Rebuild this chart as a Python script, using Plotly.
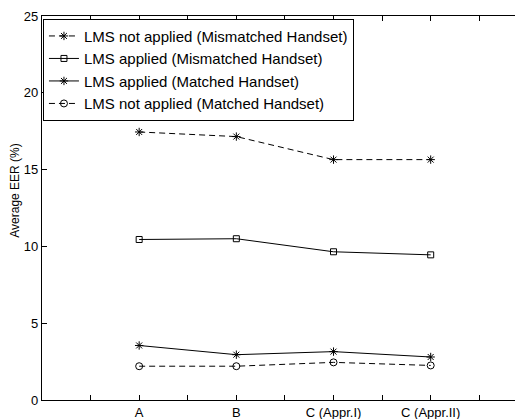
import plotly.graph_objects as go

categories = ["A", "B", "C (Appr.I)", "C (Appr.II)"]
lms_not_applied_mismatched = [17.45, 17.15, 15.65, 15.65]
lms_applied_mismatched = [10.45, 10.5, 9.65, 9.45]
lms_applied_matched = [3.55, 2.95, 3.15, 2.8]
lms_not_applied_matched = [2.2, 2.2, 2.45, 2.25]
y_ticks = [0, 5, 10, 15, 20, 25]

x_pos = [2 * (i + 1) for i in range(len(categories))]
tick_pos = list(range(1, 10))
tick_text = [categories[x_pos.index(p)] if p in x_pos else "" for p in tick_pos]

series = [
    ("LMS not applied (Mismatched Handset)", lms_not_applied_mismatched, "6px,4px", "asterisk-open", 7),
    ("LMS applied (Mismatched Handset)", lms_applied_mismatched, "solid", "square-open", 6),
    ("LMS applied (Matched Handset)", lms_applied_matched, "solid", "asterisk-open", 7),
    ("LMS not applied (Matched Handset)", lms_not_applied_matched, "6px,4px", "circle-open", 7),
]

fig = go.Figure()
for name, vals, dash, sym, size in series:
    fig.add_trace(go.Scatter(
        x=x_pos, y=vals, name=name, mode="lines+markers",
        line=dict(color="black", width=1, dash=dash),
        marker=dict(symbol=sym, size=size, color="black", line=dict(color="black", width=1)),
    ))

font_family = "Liberation Sans, Arial, sans-serif"
# the page adds an 8px body margin, so the figure is 8px smaller each way
fig.update_layout(
    width=515, height=411,
    margin=dict(l=34, r=0, t=8, b=19),
    plot_bgcolor="white", paper_bgcolor="white",
    font=dict(family=font_family, size=13, color="black"),
    showlegend=True,
    legend=dict(
        x=0.002, y=0.993, xanchor="left", yanchor="top",
        bgcolor="white", bordercolor="black", borderwidth=1,
        font=dict(size=15, family=font_family),
        tracegroupgap=0,
    ),
    xaxis=dict(
        range=[0, 9.9], tickmode="array", tickvals=tick_pos, ticktext=tick_text,
        ticks="inside", ticklen=5, tickcolor="black",
        showline=True, linecolor="black", linewidth=1.2, mirror="ticks",
        showgrid=False, zeroline=False, fixedrange=True,
    ),
    yaxis=dict(
        range=[0, 25], tickmode="array", tickvals=y_ticks,
        ticks="inside", ticklen=5, tickcolor="black",
        showline=True, linecolor="black", linewidth=1.2, mirror=False,
        showgrid=False, zeroline=False,
    ),
    annotations=[dict(
        text="Average EER (%)", textangle=-90, showarrow=False,
        xref="paper", yref="paper", x=0, y=0.545, xanchor="center", yanchor="middle",
        xshift=-27, font=dict(size=12, family=font_family),
    )],
)

fig.write_html("out.html")
